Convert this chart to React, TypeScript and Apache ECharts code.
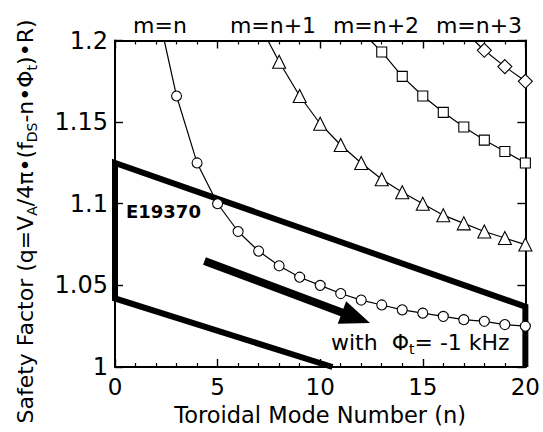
import React, { useEffect, useRef } from "react";
import * as echarts from "echarts";

// ---- data ----
const X_TICKS = [0, 5, 10, 15, 20];
const Y_TICKS = [1, 1.05, 1.1, 1.15, 1.2];

const N_MN = [3, 4, 5, 6, 7, 8, 9, 10, 11, 12, 13, 14, 15, 16, 17, 18, 19, 20];
const Q_MN = [1.166, 1.125, 1.1, 1.083, 1.071, 1.062, 1.055, 1.05, 1.045, 1.041, 1.038, 1.035, 1.033, 1.031, 1.029, 1.028, 1.026, 1.025];

const N_MN1 = [8, 9, 10, 11, 12, 13, 14, 15, 16, 17, 18, 19, 20];
const Q_MN1 = [1.187, 1.166, 1.149, 1.136, 1.125, 1.115, 1.107, 1.1, 1.093, 1.088, 1.083, 1.079, 1.075];

const N_MN2 = [13, 14, 15, 16, 17, 18, 19, 20];
const Q_MN2 = [1.193, 1.178, 1.166, 1.156, 1.147, 1.139, 1.132, 1.125];

const N_MN3 = [18, 19, 20];
const Q_MN3 = [1.194, 1.184, 1.175];

// n where each curve leaves the top of the frame (q = 1.2)
const TOP_EXIT_N = [2.4, 7.45, 12.45, 17.5];
const CURVE_LABELS = ["m=n", "m=n+1", "m=n+2", "m=n+3"];

// E19370 operating region boundary
const BOUNDARY_N = [10.6, 0, 0, 20, 20];
const BOUNDARY_Q = [1.0, 1.042, 1.125, 1.037, 1.0];

// arrow (tail -> tip)
const ARROW_FROM = [4.36, 1.065];
const ARROW_TO = [12.43, 1.027];

const FONT = "DejaVu Sans";

function curveData(ns: number[], qs: number[], exitN: number) {
  const d: any[] = [{ value: [exitN, Y_TICKS[Y_TICKS.length - 1]], symbol: "none" }];
  ns.forEach((n, i) => d.push([n, qs[i]]));
  return d;
}

function curveSeries(name: string, data: any[], symbol: string, size: number) {
  return {
    name,
    type: "line",
    data,
    symbol,
    symbolSize: size,
    showSymbol: true,
    xAxisIndex: 0,
    yAxisIndex: 0,
    lineStyle: { color: "#000", width: 1.2 },
    itemStyle: { color: "#fff", borderColor: "#000", borderWidth: 1.1 },
    z: 5,
  };
}

export default function App() {
  const ref = useRef<HTMLDivElement>(null);

  useEffect(() => {
    if (!ref.current) return;
    const chart = echarts.init(ref.current, undefined, { renderer: "svg" });
    const xMin = X_TICKS[0];
    const xMax = X_TICKS[X_TICKS.length - 1];
    const yMin = Y_TICKS[0];
    const yMax = Y_TICKS[Y_TICKS.length - 1];

    const axisCommonX = {
      type: "value",
      min: xMin,
      max: xMax,
      interval: X_TICKS[1] - X_TICKS[0],
      axisLine: { show: true, onZero: false, lineStyle: { color: "#000", width: 2 } },
      axisTick: { show: true, inside: true, length: 8, lineStyle: { color: "#000", width: 1.4 } },
      minorTick: { show: true, splitNumber: 5, length: 4, lineStyle: { color: "#000", width: 1.2 } },
      splitLine: { show: false },
      minorSplitLine: { show: false },
    };
    const axisCommonY = {
      type: "value",
      min: yMin,
      max: yMax,
      interval: Y_TICKS[1] - Y_TICKS[0],
      axisLine: { show: true, onZero: false, lineStyle: { color: "#000", width: 2 } },
      axisTick: { show: true, inside: true, length: 8, lineStyle: { color: "#000", width: 1.4 } },
      splitLine: { show: false },
    };

    const option: any = {
      animation: false,
      backgroundColor: "#fff",
      grid: { left: 115, right: 15, top: 40.5, bottom: 65, show: false },
      xAxis: [
        {
          ...axisCommonX,
          position: "bottom",
          axisLabel: { show: true, color: "#000", fontFamily: FONT, fontSize: 23, margin: 8 },
          name: "Toroidal Mode Number (n)",
          nameLocation: "middle",
          nameGap: 36,
          nameTextStyle: { color: "#000", fontFamily: FONT, fontSize: 22.5 },
        },
        { ...axisCommonX, position: "top", axisLabel: { show: false } },
      ],
      yAxis: [
        {
          ...axisCommonY,
          position: "left",
          axisLabel: {
            show: true,
            color: "#000",
            fontFamily: FONT,
            fontSize: 24,
            margin: 7,
            formatter: (v: number) => {
              const t = Y_TICKS.find((y) => Math.abs(y - v) < 1e-9);
              return t === undefined ? "" : String(t);
            },
          },
        },
        { ...axisCommonY, position: "right", axisLabel: { show: false } },
      ],
      series: [
        curveSeries("m=n", curveData(N_MN, Q_MN, TOP_EXIT_N[0]), "circle", 10),
        curveSeries("m=n+1", curveData(N_MN1, Q_MN1, TOP_EXIT_N[1]), "triangle", 13),
        curveSeries("m=n+2", curveData(N_MN2, Q_MN2, TOP_EXIT_N[2]), "rect", 10),
        curveSeries("m=n+3", curveData(N_MN3, Q_MN3, TOP_EXIT_N[3]), "diamond", 14),
        {
          name: "E19370",
          type: "line",
          data: BOUNDARY_N.map((n, i) => [n, BOUNDARY_Q[i]]),
          symbol: "none",
          lineStyle: { color: "#000", width: 6, join: "miter", cap: "butt" },
          z: 3,
        },
      ],
    };
    chart.setOption(option);

    // arrow from data coordinates
    const p0 = chart.convertToPixel({ seriesIndex: 0 }, ARROW_FROM) as number[];
    const p1 = chart.convertToPixel({ seriesIndex: 0 }, ARROW_TO) as number[];
    const dx = p1[0] - p0[0];
    const dy = p1[1] - p0[1];
    const len = Math.hypot(dx, dy);
    const ux = dx / len, uy = dy / len;
    const nx = -uy, ny = ux;
    const w = 4, L = 30, H = 12;
    const bx = p1[0] - ux * L, by = p1[1] - uy * L;
    const arrowPts = [
      [p0[0] + nx * w, p0[1] + ny * w],
      [bx + nx * w, by + ny * w],
      [bx + nx * H, by + ny * H],
      [p1[0], p1[1]],
      [bx - nx * H, by - ny * H],
      [bx - nx * w, by - ny * w],
      [p0[0] - nx * w, p0[1] - ny * w],
    ];

    const labelCenters = [160, 273, 376, 479];

    chart.setOption({
      graphic: [
        {
          type: "polygon",
          shape: { points: arrowPts },
          style: { fill: "#000" },
          z: 10,
        },
        ...CURVE_LABELS.map((t, i) => ({
          type: "text",
          x: labelCenters[i],
          y: 25,
          style: {
            text: t,
            fill: "#000",
            fontFamily: FONT,
            fontSize: 22,
            align: "center",
            verticalAlign: "middle",
          },
          z: 10,
        })),
        {
          type: "text",
          x: 126,
          y: 211,
          style: {
            text: "E19370",
            fill: "#000",
            fontFamily: FONT,
            fontWeight: "bold",
            fontSize: 18,
            align: "left",
            verticalAlign: "middle",
          },
          z: 10,
        },
        {
          type: "text",
          x: 331,
          y: 342,
          style: {
            text: "with  Φ{s|t}= -1 kHz",
            fill: "#000",
            fontFamily: FONT,
            fontSize: 22,
            lineHeight: 28,
            align: "left",
            verticalAlign: "middle",
            rich: { s: { fontFamily: FONT, fontSize: 14, fill: "#000", verticalAlign: "bottom" } },
          },
          z: 10,
        },
        {
          type: "text",
          x: 25,
          y: 221.5,
          rotation: Math.PI / 2,
          style: {
            text: "Safety Factor (q=V{s|A}/4π•(f{s|DS}-n•Φ{s|t})•R)",
            fill: "#000",
            fontFamily: FONT,
            fontSize: 22,
            lineHeight: 28,
            align: "center",
            verticalAlign: "middle",
            rich: { s: { fontFamily: FONT, fontSize: 14, fill: "#000", verticalAlign: "bottom" } },
          },
          z: 10,
        },
      ],
    });

    return () => chart.dispose();
  }, []);

  return (
    <div
      ref={ref}
      style={{ position: "fixed", left: 0, top: 0, width: 543, height: 432, background: "#fff" }}
    />
  );
}
